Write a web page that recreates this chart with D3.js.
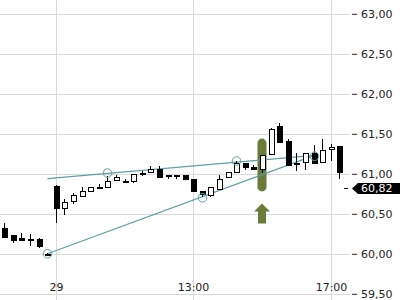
<!DOCTYPE html>
<html>
<head>
<meta charset="utf-8">
<script src="https://cdn.jsdelivr.net/npm/d3@7"></script>
<style>
  body { margin: 0; background: #fff; }
  svg { display: block; font-family: "DejaVu Sans", sans-serif; }
</style>
</head>
<body>
<div id="chart"></div>
<script>
// 15 minute candles, previous session tail + day 29
const times = [
    "28 16:15", "28 16:30", "28 16:45", "28 17:00", "28 17:15", "28 17:30",
    "29 09:00", "29 09:15", "29 09:30", "29 09:45", "29 10:00", "29 10:15",
    "29 10:30", "29 10:45", "29 11:00", "29 11:15", "29 11:30", "29 11:45",
    "29 12:00", "29 12:15", "29 12:30", "29 12:45", "29 13:00", "29 13:15",
    "29 13:30", "29 13:45", "29 14:00", "29 14:15", "29 14:30", "29 14:45",
    "29 15:00", "29 15:15", "29 15:30", "29 15:45", "29 16:00", "29 16:15",
    "29 16:30", "29 16:45", "29 17:00", "29 17:15"
];
const open = [
    60.32, 60.23, 60.20, 60.19, 60.18, 60.00,
    60.85, 60.58, 60.65, 60.73, 60.79, 60.84,
    60.83, 60.92, 60.91, 60.91, 61.01, 61.02,
    61.06, 60.99, 60.99, 60.98, 60.93, 60.78,
    60.74, 60.82, 60.96, 61.02, 61.13, 61.08,
    61.05, 61.25, 61.60, 61.41, 61.13, 61.15,
    61.26, 61.15, 61.31, 61.35
];
const high = [
    60.39, 60.23, 60.26, 60.25, 60.20, 60.01,
    60.86, 60.69, 60.76, 60.83, 60.84, 60.87,
    60.97, 60.99, 60.94, 61.00, 61.04, 61.10,
    61.10, 60.99, 60.99, 60.98, 60.94, 60.79,
    60.84, 60.98, 61.02, 61.16, 61.13, 61.11,
    61.23, 61.57, 61.64, 61.43, 61.26, 61.26,
    61.36, 61.44, 61.37, 61.35
];
const low = [
    60.21, 60.13, 60.18, 60.10, 60.07, 59.99,
    60.38, 60.49, 60.62, 60.73, 60.79, 60.81,
    60.83, 60.92, 60.88, 60.89, 60.97, 61.02,
    60.96, 60.93, 60.93, 60.93, 60.78, 60.71,
    60.71, 60.82, 60.96, 61.02, 61.05, 61.05,
    61.01, 61.25, 61.40, 61.11, 61.04, 61.05,
    61.14, 61.15, 61.16, 60.94
];
const close = [
    60.21, 60.17, 60.18, 60.19, 60.09, 60.00,
    60.58, 60.65, 60.73, 60.79, 60.84, 60.84,
    60.91, 60.96, 60.91, 61.00, 61.01, 61.06,
    60.96, 60.98, 60.99, 60.93, 60.78, 60.74,
    60.84, 60.94, 61.02, 61.13, 61.08, 61.05,
    61.23, 61.56, 61.40, 61.11, 61.13, 61.26,
    61.14, 61.30, 61.34, 61.02
];

const xTicks = ["29 09:00", "29 13:00", "29 17:00"];
const xTickLabels = ["29", "13:00", "17:00"];
const yTicks = [59.5, 60.0, 60.5, 61.0, 61.5, 62.0, 62.5, 63.0];

// trend lines and their touch points
const trendFrom = ["28 17:30", "28 17:30"];
const trendFromValue = [60.94, 60.00];
const trendTo = ["29 16:30", "29 16:30"];
const trendToValue = [61.23, 61.23];
const pivotTimes = ["28 17:30", "29 10:30", "29 13:15", "29 14:15", "29 16:30"];
const pivotValues = [60.00, 61.01, 60.70, 61.16, 61.22];

// signal marker
const signalTimes = ["29 15:00"];
const signalTop = [61.44];
const signalBottom = [60.78];

const lastPrice = 60.82;

class CandleChart{
    constructor(parent){
        this.parent = d3.select(parent);
        this.w = 400;
        this.h = 300;
        this.plotRight = 350;

        this.gridColor = "#d9d9d9";
        this.trendColor = "#5e9fa3";
        this.signalColor = "#6b7b39";

        this.locale = d3.formatLocale({decimal: ",", thousands: ".", grouping: [3], currency: ["", "€"]});
        this.fmt = this.locale.format(".2f");

        this.init();
    }

    init(){
        this.svg = this.parent.append("svg")
            .attr("width", this.w)
            .attr("height", this.h);

        this.x = d3.scaleBand()
            .domain(times)
            .range([0, 343.6]);
        this.y = d3.scaleLinear()
            .domain([59.5, 63.0])
            .range([293.8, 13.8]);

        this.candles = times.map((t, i) => ({
            t, o: open[i], h: high[i], l: low[i], c: close[i]
        }));

        this.renderGrid();
        this.renderSignal();
        this.renderTrends();
        this.renderCandles();
        this.renderPivots();
        this.renderAxis();
        this.renderLastPrice();
    }

    cx(t){
        return Math.round(this.x(t) + this.x.bandwidth() / 2) + 0.5;
    }

    renderGrid(){
        const g = this.svg.append("g").attr("shape-rendering", "crispEdges");
        g.selectAll(".hgrid")
            .data(yTicks)
            .enter().append("line")
                .attr("x1", 0)
                .attr("x2", this.plotRight)
                .attr("y1", d => Math.round(this.y(d)) + 0.5)
                .attr("y2", d => Math.round(this.y(d)) + 0.5)
                .attr("stroke", this.gridColor);
        g.selectAll(".vgrid")
            .data(xTicks)
            .enter().append("line")
                .attr("x1", d => this.cx(d))
                .attr("x2", d => this.cx(d))
                .attr("y1", 0)
                .attr("y2", this.h)
                .attr("stroke", this.gridColor);
    }

    renderSignal(){
        const g = this.svg.append("g");
        const data = signalTimes.map((t, i) => ({t, top: signalTop[i], bottom: signalBottom[i]}));

        g.selectAll("rect")
            .data(data)
            .enter().append("rect")
                .attr("x", d => this.cx(d.t) - 5)
                .attr("width", 9)
                .attr("y", d => this.y(d.top))
                .attr("height", d => this.y(d.bottom) - this.y(d.top))
                .attr("rx", 4.5)
                .attr("fill", this.signalColor);

        // arrow pointing up at the marker
        g.selectAll("path")
            .data(data)
            .enter().append("path")
                .attr("d", d => {
                    const c = this.cx(d.t) - 0.5;
                    const y0 = this.y(d.bottom) + 12;
                    return `M${c},${y0} L${c + 8},${y0 + 8} L${c + 4},${y0 + 8} L${c + 4},${y0 + 20}`
                        + ` L${c - 4},${y0 + 20} L${c - 4},${y0 + 8} L${c - 8},${y0 + 8} Z`;
                })
                .attr("fill", this.signalColor);
    }

    renderTrends(){
        const data = trendFrom.map((t, i) => ({
            t1: t, v1: trendFromValue[i], t2: trendTo[i], v2: trendToValue[i]
        }));
        this.svg.append("g").selectAll("line")
            .data(data)
            .enter().append("line")
                .attr("x1", d => this.cx(d.t1))
                .attr("y1", d => this.y(d.v1))
                .attr("x2", d => this.cx(d.t2))
                .attr("y2", d => this.y(d.v2))
                .attr("stroke", this.trendColor)
                .attr("stroke-width", 1.2);
    }

    renderCandles(){
        const candle = this.svg.append("g")
            .attr("shape-rendering", "crispEdges")
            .selectAll("g")
                .data(this.candles)
                .enter().append("g");

        candle.append("line")
            .attr("x1", d => this.cx(d.t))
            .attr("x2", d => this.cx(d.t))
            .attr("y1", d => this.y(d.h))
            .attr("y2", d => this.y(d.l))
            .attr("stroke", "black");

        candle.append("rect")
            .attr("x", d => this.cx(d.t) - 2.5)
            .attr("width", 5)
            .attr("y", d => Math.round(this.y(Math.max(d.o, d.c))) + 0.5)
            .attr("height", d => Math.max(1, Math.round(Math.abs(this.y(d.o) - this.y(d.c)))))
            .attr("fill", d => d.c >= d.o ? "white" : "black")
            .attr("stroke", "black");
    }

    renderPivots(){
        this.svg.append("g").selectAll("circle")
            .data(pivotTimes.map((t, i) => ({t, v: pivotValues[i]})))
            .enter().append("circle")
                .attr("cx", d => this.cx(d.t))
                .attr("cy", d => this.y(d.v))
                .attr("r", 4.3)
                .attr("fill", "none")
                .attr("stroke", this.trendColor)
                .attr("stroke-width", 1);
    }

    renderAxis(){
        const yAxis = this.svg.append("g")
            .attr("transform", `translate(${this.plotRight + 2},0)`)
            .call(d3.axisRight(this.y)
                .tickValues(yTicks)
                .tickSize(5)
                .tickPadding(4)
                .tickFormat(this.fmt));
        yAxis.select(".domain").remove();
        yAxis.selectAll(".tick line").attr("stroke", "#222");
        yAxis.selectAll("text")
            .attr("fill", "#222")
            .style("font-family", "DejaVu Sans")
            .style("font-size", "11px");

        this.svg.append("g").selectAll("text")
            .data(xTicks)
            .enter().append("text")
                .attr("x", d => this.cx(d))
                .attr("y", 291)
                .attr("text-anchor", "middle")
                .attr("fill", "#222")
                .style("font-size", "11px")
                .text((d, i) => xTickLabels[i]);
    }

    renderLastPrice(){
        const yc = Math.round(this.y(lastPrice)) + 0.5;
        const g = this.svg.append("g");
        g.append("line")
            .attr("x1", this.plotRight - 6)
            .attr("x2", this.plotRight - 2)
            .attr("y1", yc)
            .attr("y2", yc)
            .attr("stroke", "#222");
        g.append("path")
            .attr("d", `M${this.plotRight + 2},${yc} L${this.plotRight + 8},${yc - 5.5} L${this.w},${yc - 5.5}`
                + ` L${this.w},${yc + 5.5} L${this.plotRight + 8},${yc + 5.5} Z`)
            .attr("fill", "black");
        g.append("text")
            .attr("x", this.plotRight + 11)
            .attr("y", yc)
            .attr("dy", "0.36em")
            .attr("fill", "white")
            .style("font-size", "11px")
            .text(this.fmt(lastPrice));
    }
}

new CandleChart(document.getElementById("chart"));
</script>
</body>
</html>
